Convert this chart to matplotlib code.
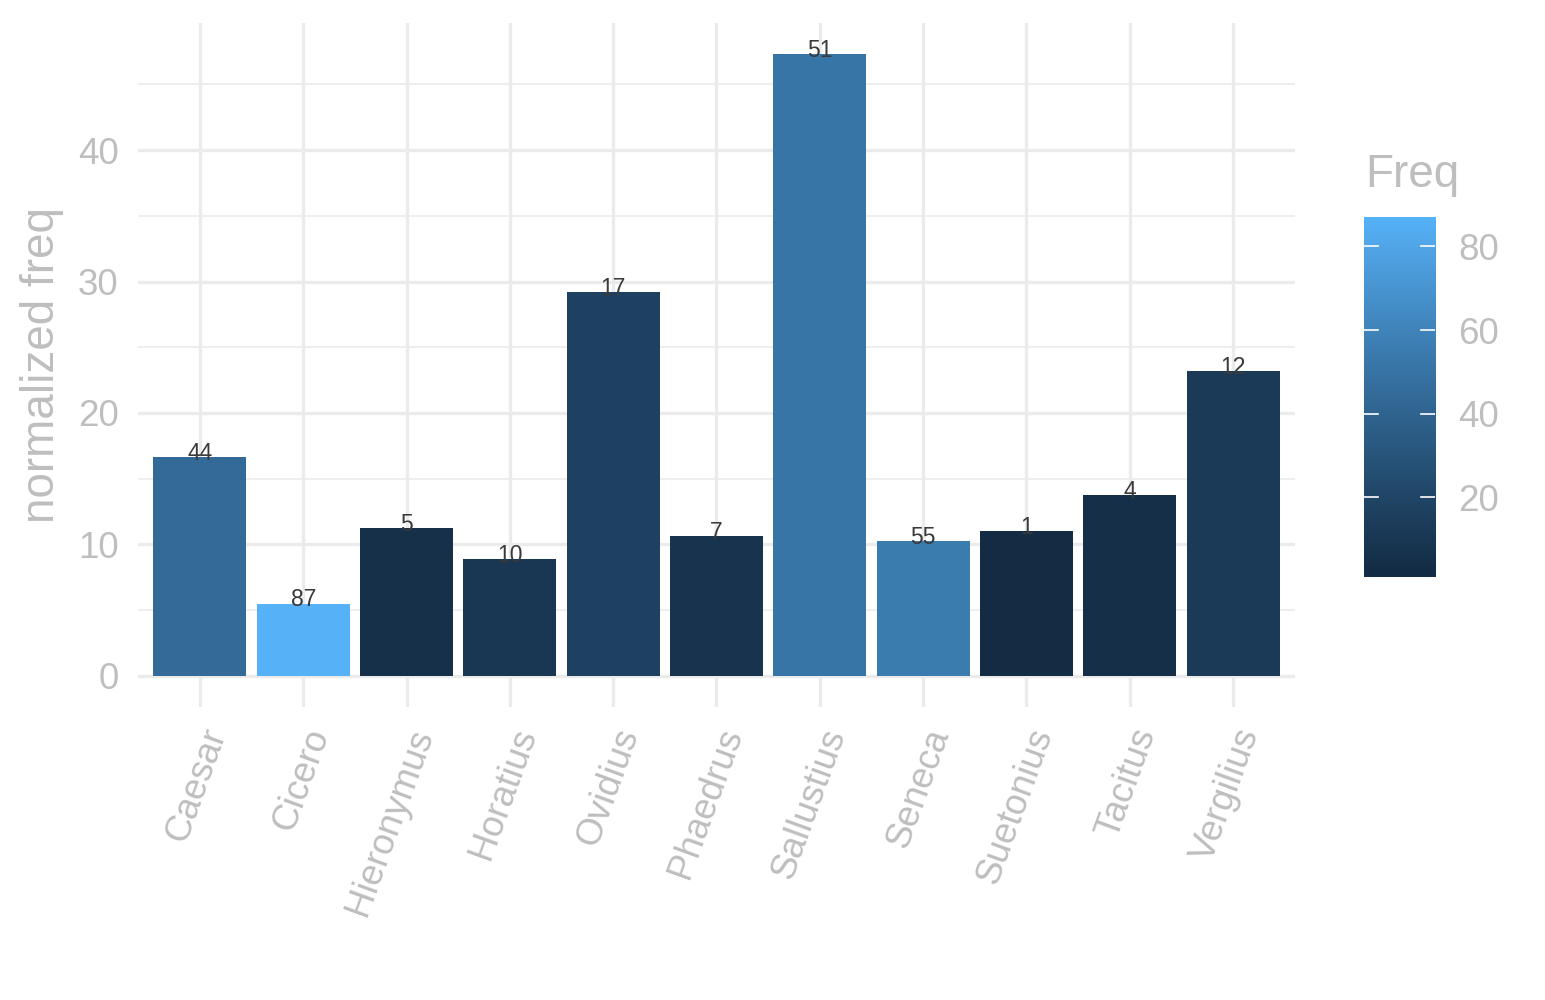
import matplotlib
matplotlib.use('Agg')
import matplotlib.pyplot as plt
import numpy as np
from matplotlib.colors import ListedColormap, Normalize, to_rgb

# data
authors = ['Caesar', 'Cicero', 'Hieronymus', 'Horatius', 'Ovidius', 'Phaedrus',
           'Sallustius', 'Seneca', 'Suetonius', 'Tacitus', 'Vergilius']
norm_freq = [16.65, 5.48, 11.25, 8.9, 29.2, 10.65, 47.3, 10.27, 11.03, 13.76, 23.19]
freq = [44, 87, 5, 10, 17, 7, 51, 55, 1, 4, 12]
cbar_ticks = [20, 40, 60, 80]

plt.rcParams['font.family'] = ['Liberation Sans', 'DejaVu Sans']
txt_col = '#BEBEBE'
grid_col = '#EBEBEB'


def srgb_to_lab(c):
    c = np.asarray(c, float)
    lin = np.where(c <= 0.04045, c / 12.92, ((c + 0.055) / 1.055) ** 2.4)
    M = np.array([[0.4124, 0.3576, 0.1805],
                  [0.2126, 0.7152, 0.0722],
                  [0.0193, 0.1192, 0.9505]])
    xyz = M @ lin / np.array([0.95047, 1.0, 1.08883])
    f = np.where(xyz > 0.008856, np.cbrt(xyz), 7.787 * xyz + 16 / 116)
    return np.array([116 * f[1] - 16, 500 * (f[0] - f[1]), 200 * (f[1] - f[2])])


def lab_to_srgb(lab):
    L, a, b = lab
    fy = (L + 16) / 116
    fx = fy + a / 500
    fz = fy - b / 200
    f = np.array([fx, fy, fz])
    xyz = np.where(f ** 3 > 0.008856, f ** 3, (f - 16 / 116) / 7.787)
    xyz = xyz * np.array([0.95047, 1.0, 1.08883])
    Minv = np.array([[3.2406, -1.5372, -0.4986],
                     [-0.9689, 1.8758, 0.0415],
                     [0.0557, -0.2040, 1.0570]])
    lin = Minv @ xyz
    c = np.where(lin <= 0.0031308, 12.92 * lin, 1.055 * np.clip(lin, 0, None) ** (1 / 2.4) - 0.055)
    return np.clip(c, 0, 1)


# ggplot-style gradient, interpolated in Lab
lo = srgb_to_lab(to_rgb('#132B43'))
hi = srgb_to_lab(to_rgb('#56B1F7'))
cmap = ListedColormap([lab_to_srgb(lo + t * (hi - lo)) for t in np.linspace(0, 1, 256)])
norm = Normalize(vmin=min(freq), vmax=max(freq))

fig = plt.figure(figsize=(15.45, 10), dpi=100)
ax = fig.add_axes([0.0893, 0.293, 0.7489, 0.684])

x = np.arange(len(authors))
ax.bar(x, norm_freq, width=0.9, color=cmap(norm(np.array(freq))), zorder=2)
for xi, h, f in zip(x, norm_freq, freq):
    ax.text(xi, h - 0.2, str(f), ha='center', va='baseline', fontsize=16.5,
            color='#3a3a3a', zorder=3)

ax.set_xlim(-0.6, len(authors) - 0.4)
ax.set_ylim(-0.05 * max(norm_freq), 1.05 * max(norm_freq))
ax.set_yticks([0, 10, 20, 30, 40])
ax.set_yticks([5, 15, 25, 35, 45], minor=True)
ax.set_xticks(x)
ax.set_xticklabels(authors, rotation=70, ha='right', va='top', rotation_mode='anchor')
ax.grid(which='major', color=grid_col, linewidth=2.4, zorder=0)
ax.grid(which='minor', axis='y', color=grid_col, linewidth=1.2, zorder=0)
ax.set_axisbelow(True)
for s in ax.spines.values():
    s.set_visible(False)
ax.tick_params(which='both', length=0, labelsize=26.5, colors=txt_col)
ax.tick_params(axis='x', pad=12)
ax.tick_params(axis='y', pad=14)
fig.text(42 / 1545, 0.635, 'normalized freq', rotation=90, fontsize=33,
         color=txt_col, ha='center', va='center')

# colour bar legend
cax = fig.add_axes([0.8828, 0.423, 0.046, 0.36])
grad = np.linspace(norm.vmin, norm.vmax, 300).reshape(-1, 1)
cax.imshow(grad, cmap=cmap, norm=norm, aspect='auto', origin='lower',
           extent=[0, 1, norm.vmin, norm.vmax])
for t in cbar_ticks:
    cax.plot([0, 0.2], [t, t], color='white', linewidth=1.2)
    cax.plot([0.8, 1], [t, t], color='white', linewidth=1.2)
cax.set_xlim(0, 1)
cax.set_ylim(norm.vmin, norm.vmax)
cax.set_xticks([])
cax.yaxis.tick_right()
cax.set_yticks(cbar_ticks)
cax.tick_params(length=0, labelsize=26.5, colors=txt_col, pad=17)
for s in cax.spines.values():
    s.set_visible(False)
fig.text(0.8835, 0.825, 'Freq', fontsize=33, color=txt_col, ha='left', va='center')

fig.savefig('out.png', dpi=100, facecolor='white')
